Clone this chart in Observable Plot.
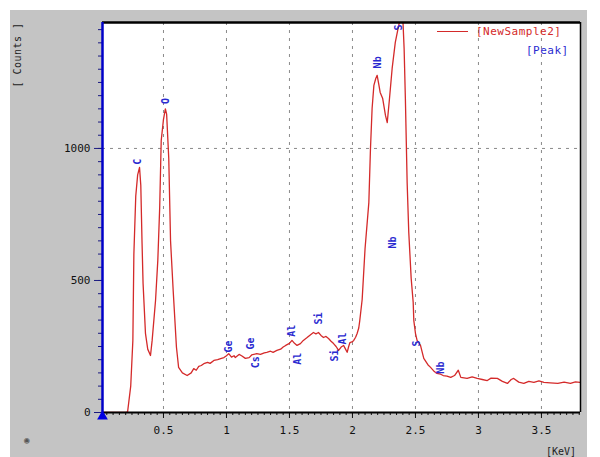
<!DOCTYPE html>
<html>
<head>
<meta charset="utf-8">
<script src="https://cdn.jsdelivr.net/npm/d3@7"></script>
<script src="https://cdn.jsdelivr.net/npm/@observablehq/plot@0.6"></script>
<style>
  body { margin: 0; background: #fff; }
  #wrap { position: relative; width: 600px; height: 457px; overflow: hidden; background: #fff; font-family: "DejaVu Sans Mono", monospace; }
  #gray { position: absolute; left: 10px; top: 10px; width: 577px; height: 447px; background: #c4c4c4; }
  #chart { position: absolute; left: 0; top: 0; }
  .lbl { position: absolute; font-size: 11px; white-space: nowrap; line-height: 12px; }
</style>
</head>
<body>
<div id="wrap">
  <div id="gray"></div>
  <div id="chart"></div>
  <div style="position:absolute;left:437px;top:31px;width:31px;height:0;border-top:1.5px solid #d42a2a"></div>
  <div class="lbl" style="left:476px;top:26px;color:#d42a2a;letter-spacing:0.5px">[NewSample2]</div>
  <div class="lbl" style="left:526px;top:45px;color:#2a2ad0;letter-spacing:0.5px">[Peak]</div>
  <div class="lbl" style="left:12px;top:48px;transform:rotate(-90deg);transform-origin:0 0;"></div>
  <div class="lbl" id="ylab" style="left:6px;top:24px;width:24px;height:62px;"><span style="position:absolute;left:12px;top:31px;transform:translate(-50%,-50%) rotate(-90deg);color:#222;font-size:10px;letter-spacing:0.5px">[ Counts ]</span></div>
  <div class="lbl" style="left:546px;top:446px;color:#222;font-size:10px">[KeV]</div>
  <div class="lbl" style="left:24px;top:434px;color:#555;font-size:9px">&#9673;</div>
</div>
<script>
// Spectrum (energy in keV, counts)
const energy = [0.016,0.1,0.2,0.215,0.24,0.257,0.265,0.28,0.295,0.31,0.32,0.33,0.338,0.357,0.375,0.397,0.41,0.437,0.455,0.47,0.482,0.50,0.515,0.525,0.542,0.556,0.577,0.603,0.62,0.65,0.688,0.72,0.74,0.76,0.78,0.8,0.82,0.85,0.87,0.9,0.93,0.96,0.98,1.0,1.018,1.04,1.06,1.07,1.1,1.12,1.15,1.18,1.2,1.24,1.27,1.3,1.32,1.35,1.37,1.4,1.43,1.45,1.47,1.5,1.52,1.54,1.56,1.587,1.61,1.64,1.66,1.69,1.71,1.73,1.75,1.77,1.79,1.81,1.83,1.85,1.87,1.89,1.91,1.93,1.945,1.958,1.97,1.98,2.0,2.01,2.025,2.037,2.05,2.058,2.077,2.1,2.13,2.143,2.156,2.17,2.185,2.196,2.21,2.22,2.24,2.262,2.276,2.294,2.315,2.34,2.367,2.385,2.4,2.41,2.42,2.434,2.447,2.466,2.482,2.487,2.5,2.513,2.54,2.566,2.6,2.62,2.65,2.67,2.7,2.72,2.75,2.78,2.81,2.84,2.86,2.91,2.95,2.99,3.03,3.07,3.1,3.15,3.19,3.23,3.26,3.28,3.32,3.36,3.4,3.44,3.48,3.52,3.57,3.63,3.68,3.73,3.77,3.81];
const counts = [0,0,0,2,100,273,600,820,900,928,860,640,489,300,240,216,273,424,576,777,1030,1110,1150,1130,961,651,462,247,171,150,140,150,166,160,175,178,185,190,186,197,200,205,208,215,223,210,215,208,220,215,205,208,218,223,220,226,228,232,228,235,240,248,254,262,273,262,254,261,273,284,292,303,298,303,292,284,288,280,270,261,250,235,248,254,240,228,250,265,268,273,285,299,320,348,428,621,795,1000,1152,1239,1265,1277,1240,1212,1189,1125,1098,1189,1303,1402,1466,1500,1490,1379,1189,871,682,508,417,348,300,273,254,205,180,171,155,148,145,140,138,133,140,160,133,129,135,129,125,121,130,129,118,110,125,129,115,110,118,114,120,114,112,110,115,110,116,114];

// Peak labels
const peakNames  = ["C","O","Ge","Ge","Cs","Al","Al","Si","Si","Al","Nb","S","Nb","S","Nb"];
const peakEnergy = [0.294,0.516,1.02,1.19,1.23,1.52,1.57,1.73,1.86,1.92,2.20,2.37,2.32,2.51,2.70];
const peakCounts = [950,1180,250,261,190,310,204,356,216,280,1326,1458,644,261,170];

// Axes
const xDomain = [0.016, 3.81];
const yDomain = [0, 1477];
const xTicks = [0.5, 1, 1.5, 2, 2.5, 3, 3.5];
const xTickLabels = ["0.5","1","1.5","2","2.5","3","3.5"];
const yTicks = [0, 500, 1000];
const yTickLabels = ["0","500","1000"];
const gridY = [1000];

const spectrum = energy.map((e, i) => ({e, c: counts[i]}));
const peaks = peakNames.map((n, i) => ({n, e: peakEnergy[i], c: peakCounts[i]}));
const xMinor = d3.range(0.05, 3.81, 0.05).map(v => +v.toFixed(2));
const yMinor = d3.range(50, 1477, 50);

const red = "#d42a2a", blue = "#2a2ad0";

const chart = Plot.plot({
  width: 600,
  height: 457,
  marginLeft: 102,
  marginRight: 20,
  marginTop: 22,
  marginBottom: 45,
  style: {background: "transparent", fontFamily: "DejaVu Sans Mono, monospace", fontSize: "11px", color: "#111"},
  x: {domain: xDomain, label: null},
  y: {domain: yDomain, label: null},
  marks: [
    Plot.frame({fill: "white", stroke: null}),
    Plot.ruleX(xTicks, {stroke: "#8a8a8a", strokeDasharray: "3,5", strokeWidth: 1}),
    Plot.ruleY(gridY, {stroke: "#8a8a8a", strokeDasharray: "3,5", strokeWidth: 1}),
    Plot.axisX({ticks: xMinor, tickSize: 3, text: null, label: null, stroke: "#111"}),
    Plot.axisX({ticks: xTicks, tickSize: 6, tickPadding: 8, label: null, stroke: "#111",
      tickFormat: d => xTickLabels[xTicks.indexOf(d)], style: {letterSpacing: "1px"}}),
    Plot.axisY({ticks: yMinor, tickSize: 4, text: null, label: null, stroke: "#1a1a80"}),
    Plot.axisY({ticks: yTicks, tickSize: 8, tickPadding: 4, label: null, stroke: "#1a1a80",
      tickFormat: d => yTickLabels[yTicks.indexOf(d)], style: {letterSpacing: "1px"}}),
    Plot.line(spectrum, {x: "e", y: "c", stroke: red, strokeWidth: 1.3, clip: true}),
    Plot.text(peaks, {x: "e", y: "c", text: "n", rotate: -90, fill: blue, fontSize: 10, fontWeight: "bold"}),
    Plot.ruleY([yDomain[1]], {stroke: "#000", strokeWidth: 2.5}),
    Plot.ruleX([xDomain[1]], {stroke: "#000", strokeWidth: 1.5}),
    Plot.ruleY([yDomain[0]], {stroke: "#000", strokeWidth: 2}),
    Plot.ruleX([xDomain[0]], {stroke: "#0000c8", strokeWidth: 2.5}),
    Plot.dot([{x: xDomain[0], y: 0}], {x: "x", y: "y", symbol: "triangle", r: 4, fill: "#0000e0", stroke: null, dy: 4})
  ]
});
document.getElementById("chart").appendChild(chart);
</script>
</body>
</html>
